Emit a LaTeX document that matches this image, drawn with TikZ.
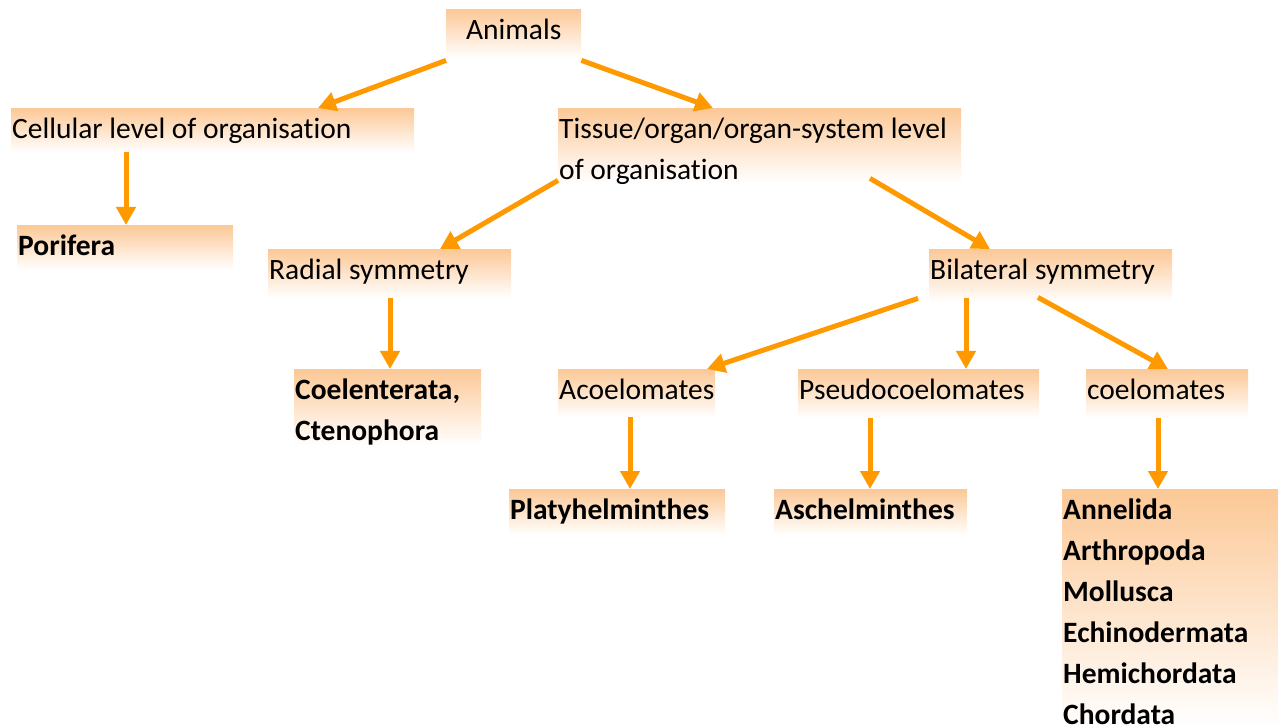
\documentclass[tikz,border=0pt]{standalone}
\usepackage{fontspec}
\setmainfont{Carlito}[Ligatures=NoCommon]
\usetikzlibrary{arrows.meta}
\definecolor{peach}{RGB}{252,200,150}
\definecolor{arrc}{RGB}{255,153,0}
\begin{document}
\begin{tikzpicture}[x=1pt,y=-1pt,line join=round]
	\tikzset{box/.style={anchor=north west,inner xsep=1pt,inner ysep=0pt,text height=30pt,
			top color=peach,bottom color=white,align=left,font=\fontsize{29.5}{41}\selectfont,
			execute at begin node=\spaceskip0pt\relax},
		leaf/.style={box,font=\fontsize{29.5}{41}\selectfont\bfseries},
		arr/.style={draw=arrc,line width=5pt,-{Triangle[length=18pt,width=19pt]}}}
	\useasboundingbox (0,0) rectangle (1278,727);
	% levels of organisation
	\node[box,align=center,text width=133pt,text depth=19pt] (animals) at (446,9) {Animals};
	\node[box,text width=401pt,text depth=14pt] (cell) at (11,108) {Cellular level of organisation};
	\node[box,text width=401pt,text depth=44pt] (tissue) at (558,108) {Tissue/organ/organ-system level\\of organisation};
	\node[leaf,text width=214pt,text depth=15pt] (pori) at (17,225) {Porifera};
	% symmetry
	\node[box,text width=241pt,text depth=19pt] (radial) at (268,249) {Radial symmetry};
	\node[box,text width=241pt,text depth=23pt] (bilat) at (929,249) {Bilateral symmetry};
	\node[leaf,text width=185pt,text depth=46pt] (coel) at (294,369) {Coelenterata,\\Ctenophora};
	% body cavity
	\node[box,text width=155pt,text depth=18pt] (acoel) at (558,369) {Acoelomates};
	\node[box,text width=239pt,text depth=19pt] (pseudo) at (798,369) {Pseudocoelomates};
	\node[box,text width=160pt,text depth=19pt] (coelom) at (1086,369) {coelomates};
	\node[leaf,text width=214pt,text depth=16pt] (platy) at (509,489) {Platyhelminthes};
	\node[leaf,text width=191pt,text depth=16pt] (asch) at (774,489) {Aschelminthes};
	\node[leaf,text width=214pt,text depth=208pt] (annel) at (1062,489)
		{Annelida\\Arthropoda\\Mollusca\\Echinodermata\\Hemichordata\\Chordata};
	% arrows
	\draw[arr] ([yshift=-2pt]animals.south west) -- ([xshift=307pt]cell.north west);
	\draw[arr] ([yshift=-2pt]animals.south east) -- ([xshift=155pt]tissue.north west);
	\draw[arr] ([xshift=115pt]cell.south west) -- ([xshift=109pt]pori.north west);
	\draw[arr] ([yshift=2pt]tissue.south west) -- ([xshift=172pt]radial.north west);
	\draw[arr] ([xshift=312pt,yshift=4pt]tissue.south west) -- ([xshift=61pt]bilat.north west);
	\draw[arr] ([xshift=122pt]radial.south west) -- ([xshift=96pt]coel.north west);
	\draw[arr] ([xshift=-11pt,yshift=4pt]bilat.south west) -- ([xshift=149pt]acoel.north west);
	\draw[arr] ([xshift=37pt,yshift=4pt]bilat.south west) -- ([xshift=168pt]pseudo.north west);
	\draw[arr] ([xshift=109pt,yshift=5pt]bilat.south west) -- ([xshift=82pt]coelom.north west);
	\draw[arr] ([xshift=72pt]acoel.south west) -- ([xshift=121pt]platy.north west);
	\foreach \a/\b in {pseudo/asch,coelom/annel}
	\draw[arr] ([xshift=72pt]\a.south west) -- ([xshift=96pt]\b.north west);
\end{tikzpicture}
\end{document}
